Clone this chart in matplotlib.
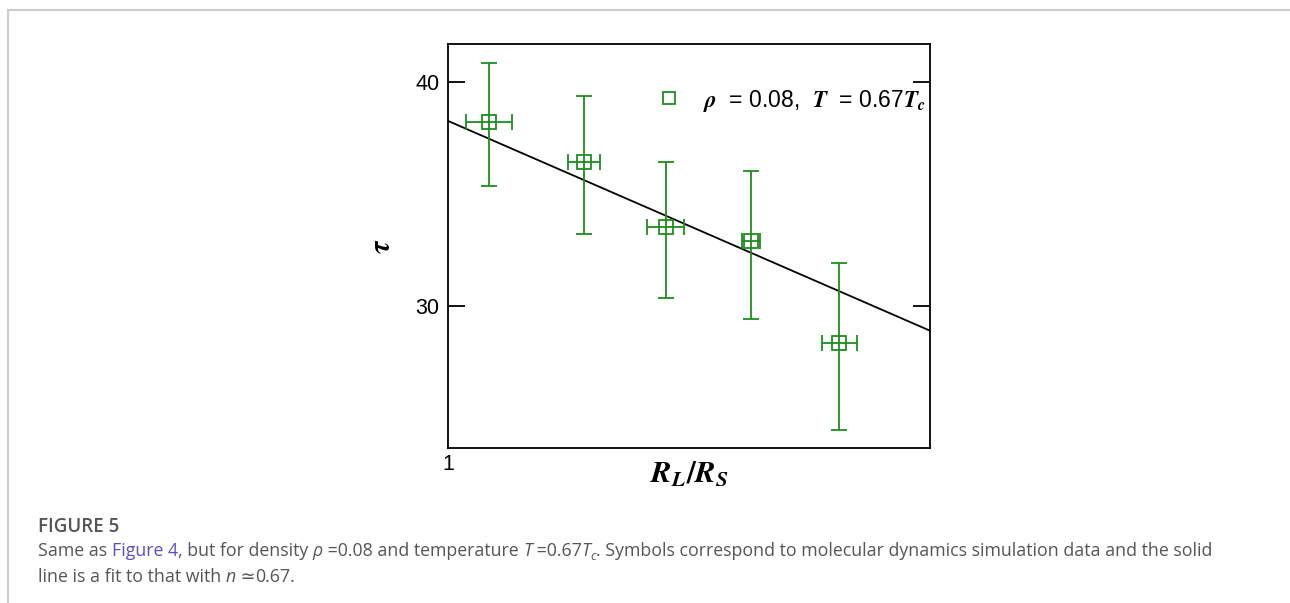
import matplotlib
matplotlib.use('Agg')
import matplotlib.pyplot as plt
import numpy as np
from matplotlib.lines import Line2D
from matplotlib.ticker import FixedLocator, NullLocator, FixedFormatter

plt.rcParams['mathtext.fontset'] = 'stix'
plt.rcParams['font.family'] = ['Liberation Sans', 'DejaVu Sans']

# data (log-log axes)
rl_rs = [1.081, 1.295, 1.514, 1.779, 2.103]
rl_lo = [1.035, 1.256, 1.460, 1.749, 2.036]
rl_hi = [1.129, 1.335, 1.566, 1.810, 2.177]
tau = [38.0, 36.1, 33.2, 32.6, 28.6]
tau_lo = [35.0, 32.9, 30.3, 29.5, 25.6]
tau_hi = [41.0, 39.3, 36.1, 35.7, 31.7]

# fitted power law tau = A * (R_L/R_S)^(-b)
fit_A = 38.05
fit_b = 0.294

x_lim = (1.0, 2.5)
y_lim = (25.0, 42.0)
y_ticks = [30, 40]

green = '#1e8c1e'

fig = plt.figure(figsize=(12.9, 6.03), dpi=100)

# light page border like the screenshot
fig.add_artist(Line2D([7.5 / 1290, 7.5 / 1290], [0, 1 - 10 / 603], color='#cccccc', lw=1.5))
fig.add_artist(Line2D([7.5 / 1290, 1], [1 - 10 / 603, 1 - 10 / 603], color='#cccccc', lw=1.5))

ax = fig.add_axes([448 / 1290, 1 - 448 / 603, 482 / 1290, 404 / 603])
ax.set_xscale('log')
ax.set_yscale('log')

x = np.array(rl_rs)
y = np.array(tau)
xerr = [x - np.array(rl_lo), np.array(rl_hi) - x]
yerr = [y - np.array(tau_lo), np.array(tau_hi) - y]

ax.errorbar(x, y, xerr=xerr, yerr=yerr, fmt='s', mfc='none', mec=green, mew=1.3,
            ms=10, ecolor=green, elinewidth=1.3, capsize=5.5, capthick=1.3)

xf = np.array(x_lim)
ax.plot(xf, fit_A * xf ** (-fit_b), color='black', lw=1.3, zorder=1)

ax.set_xlim(*x_lim)
ax.set_ylim(*y_lim)

ax.yaxis.set_major_locator(FixedLocator(y_ticks))
ax.yaxis.set_major_formatter(FixedFormatter([str(t) for t in y_ticks]))
ax.yaxis.set_minor_locator(NullLocator())
ax.xaxis.set_major_locator(FixedLocator([1]))
ax.xaxis.set_major_formatter(FixedFormatter(['1']))
ax.xaxis.set_minor_locator(NullLocator())

ax.tick_params(axis='y', direction='in', length=12, width=1.3, left=True, right=True,
               labelsize=15.5, pad=6)
ax.tick_params(axis='x', length=0, labelsize=15.5, pad=4)
for s in ax.spines.values():
    s.set_linewidth(1.3)

ax.set_xlabel(r'$\boldsymbol{R}_{\boldsymbol{L}}\boldsymbol{/}\boldsymbol{R}_{\boldsymbol{S}}$',
              fontsize=22, labelpad=-11)
ax.set_ylabel(r'$\boldsymbol{\tau}$', fontsize=21, labelpad=14)

handle = Line2D([], [], ls='none', marker='s', mfc='none', mec=green, mew=1.3, ms=9)
ax.legend([handle],
          [r'$\boldsymbol{\rho}$  = 0.08,  $\boldsymbol{T}$  = 0.67$\boldsymbol{T}_{\boldsymbol{c}}$'],
          loc='upper right', bbox_to_anchor=(1.01, 0.915), frameon=False, fontsize=16.5,
          handlelength=0.8, handletextpad=1.1, borderaxespad=0.0)

# caption
cap_font = ['Open Sans', 'DejaVu Sans']
gray = '#555555'
fig.text(38 / 1290, 1 - 527 / 603, 'FIGURE 5', fontsize=13.5, color=gray,
         family=cap_font, va='center', fontweight='semibold')

fig.canvas.draw()
renderer = fig.canvas.get_renderer()


def put_pieces(x0, ypix, pieces):
    xp = x0
    for txt, col, sty, sub in pieces:
        yy = ypix + (5 if sub else 0)
        t = fig.text(xp / 1290, 1 - yy / 603, txt, fontsize=9 if sub else 12.8,
                     color=col, style=sty, family=cap_font, va='center')
        bb = t.get_window_extent(renderer)
        xp += bb.width


link = '#5b4fbf'
put_pieces(38, 551, [
    ('Same as ', gray, 'normal', False),
    ('Figure 4', link, 'normal', False),
    (', but for density ', gray, 'normal', False),
    ('\u03c1', gray, 'italic', False),
    (' =0.08 and temperature ', gray, 'normal', False),
    ('T', gray, 'italic', False),
    (' =0.67', gray, 'normal', False),
    ('T', gray, 'italic', False),
    ('c', gray, 'italic', True),
    ('. Symbols correspond to molecular dynamics simulation data and the solid', gray, 'normal', False),
])
put_pieces(38, 577, [
    ('line is a fit to that with ', gray, 'normal', False),
    ('n', gray, 'italic', False),
    (' \u2243', gray, 'normal', False),
    ('0.67.', gray, 'normal', False),
])

fig.savefig('out.png', dpi=100)
